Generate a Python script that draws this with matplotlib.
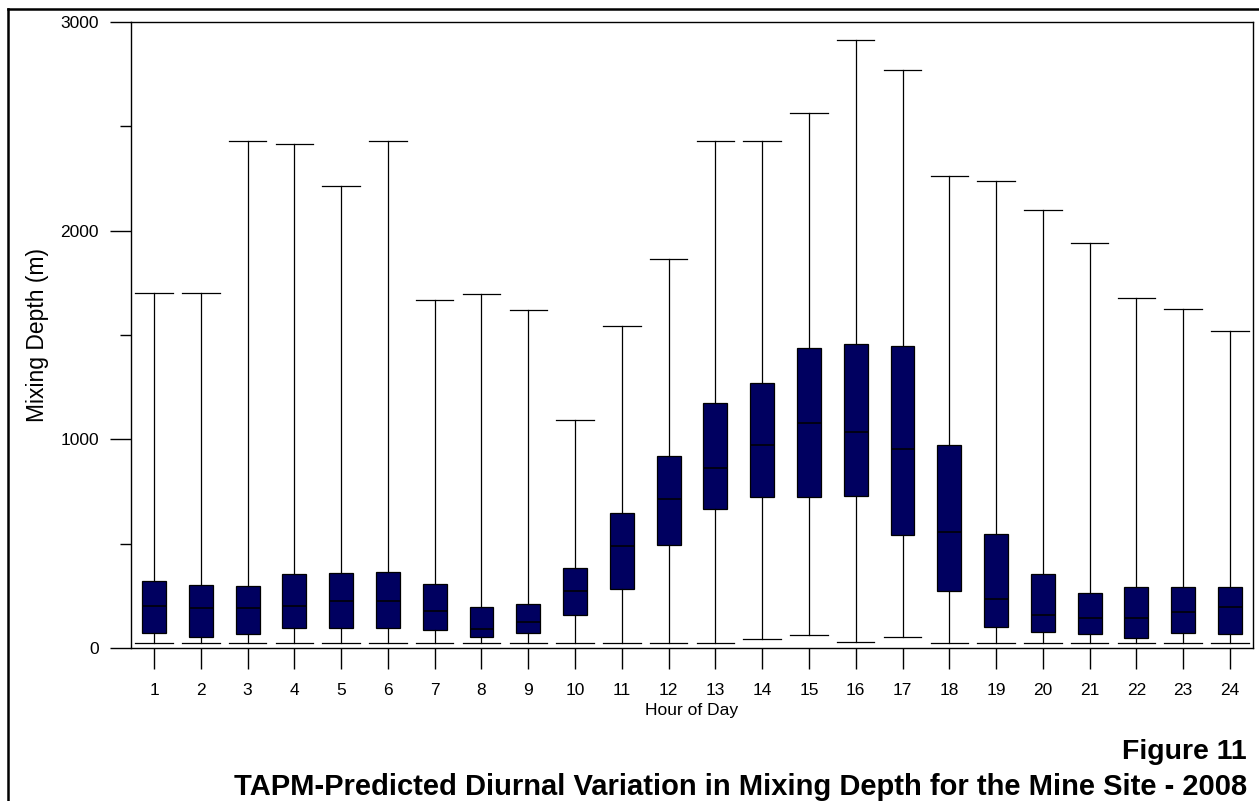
import matplotlib
matplotlib.use("Agg")
import matplotlib.pyplot as plt
from matplotlib.lines import Line2D

plt.rcParams['font.family'] = ['Liberation Sans', 'DejaVu Sans']

hours = list(range(1, 25))
whislo = [23, 23, 23, 23, 23, 23, 23, 23, 23, 23, 23, 23, 23, 43, 61, 30, 54, 23, 23, 23, 23, 23, 23, 23]
q1 = [73, 54, 66, 94, 94, 94, 86, 51, 72, 157, 281, 494, 665, 725, 725, 727, 542, 273, 101, 78, 67, 48, 70, 67]
med = [200, 193, 193, 200, 224, 224, 179, 91, 125, 272, 489, 714, 863, 971, 1080, 1033, 954, 557, 233, 158, 144, 144, 171, 195]
q3 = [320, 300, 296, 355, 358, 364, 307, 195, 211, 382, 648, 919, 1174, 1271, 1438, 1456, 1447, 973, 545, 353, 265, 291, 291, 291]
whishi = [1700, 1700, 2428, 2415, 2215, 2428, 1666, 1698, 1618, 1093, 1545, 1866, 2428, 2428, 2562, 2912, 2768, 2263, 2236, 2100, 1942, 1676, 1625, 1519]
yticks = [0, 1000, 2000, 3000]
yminor = [500, 1500, 2500]

W, H = 1259, 801
fig = plt.figure(figsize=(W / 100, H / 100), dpi=100)
ax = fig.add_axes([131 / W, 1 - 648 / H, (1253 - 131) / W, (648 - 22) / H])

stats = []
for i in range(len(hours)):
    stats.append(dict(med=med[i], q1=q1[i], q3=q3[i], whislo=whislo[i],
                      whishi=whishi[i], fliers=[], label=str(hours[i])))

lw = 0.9
ax.bxp(stats, positions=hours, widths=0.51, capwidths=0.8, patch_artist=True,
       showfliers=False,
       boxprops=dict(facecolor='#000060', edgecolor='black', linewidth=lw),
       medianprops=dict(color='black', linewidth=1.1),
       whiskerprops=dict(color='black', linewidth=lw),
       capprops=dict(color='black', linewidth=lw))

ax.set_xlim(0.508, 24.492)
ax.set_ylim(0, 3000)
ax.set_yticks(yticks)
ax.set_yticks(yminor, minor=True)
ax.set_xticks(hours)
ax.set_xticklabels([str(h) for h in hours])

for s in ax.spines.values():
    s.set_linewidth(1.0)
    s.set_color('black')

ax.tick_params(axis='both', which='major', direction='out', length=15, width=1.0,
               labelsize=12.5, colors='black')
ax.tick_params(axis='y', which='major', pad=8)
ax.tick_params(axis='x', which='major', pad=10)
ax.tick_params(axis='y', which='minor', direction='out', length=8, width=1.0)
ax.tick_params(axis='x', which='minor', length=0)

ax.set_ylabel('Mixing Depth (m)', fontsize=16.5)
ax.yaxis.set_label_coords(-0.0731, 0.5)
ax.set_xlabel('Hour of Day', fontsize=12.5)
ax.xaxis.set_label_coords(0.5, -0.0880)

# page frame (left and top)
fig.add_artist(Line2D([8 / W, 8 / W], [0, 1 - 9 / H], transform=fig.transFigure,
                      color='black', linewidth=1.8))
fig.add_artist(Line2D([8 / W, 1], [1 - 9 / H, 1 - 9 / H], transform=fig.transFigure,
                      color='black', linewidth=1.8))

fig.text(1247 / W, 1 - 752 / H, 'Figure 11', ha='right', va='center',
         fontsize=20.5, fontweight='bold')
fig.text(1247 / W, 1 - 787 / H,
         'TAPM-Predicted Diurnal Variation in Mixing Depth for the Mine Site - 2008',
         ha='right', va='center', fontsize=21, fontweight='bold')

fig.savefig('out.png', dpi=100)
